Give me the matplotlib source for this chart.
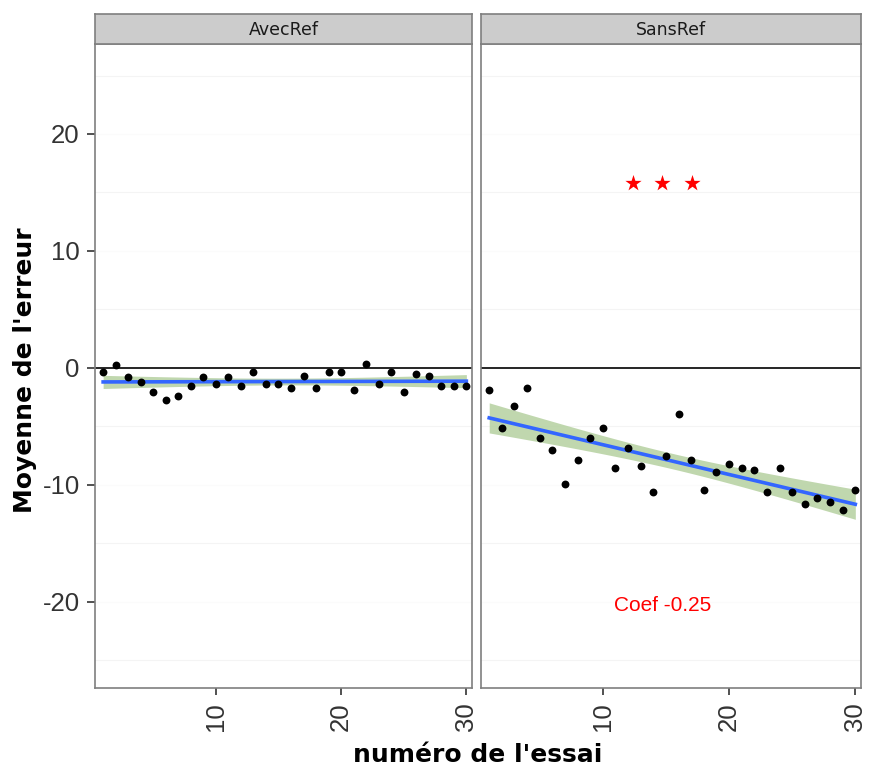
import numpy as np
import matplotlib
matplotlib.use("Agg")
import matplotlib.pyplot as plt

plt.rcParams['font.family'] = ['Liberation Sans', 'DejaVu Sans']

# essai number (same for both panels)
essai = list(range(1, 31))

# mean error, panel "AvecRef"
avec_ref = [-0.37, 0.2, -0.83, -1.26, -2.08, -2.76, -2.39, -1.6, -0.83, -1.43,
            -0.83, -1.6, -0.37, -1.43, -1.43, -1.77, -0.68, -1.77, -0.37, -0.37,
            -1.9, 0.32, -1.43, -0.37, -2.08, -0.51, -0.68, -1.6, -1.6, -1.6]

# mean error, panel "SansRef"
sans_ref = [-1.91, -5.15, -3.27, -1.74, -6.01, -7.03, -9.94, -7.89, -6.01, -5.15,
            -8.57, -6.86, -8.4, -10.62, -7.55, -3.96, -7.89, -10.45, -8.91, -8.23,
            -8.57, -8.74, -10.62, -8.57, -10.62, -11.65, -11.14, -11.48, -12.16, -10.45]

panels = ["AvecRef", "SansRef"]

# annotations of the SansRef panel
stars_x = [12.4, 14.7, 17.1]
stars_y = [15.8, 15.8, 15.8]
coef_label = "Coef -0.25"


def fit_band(x, y, t=2.048):
    # lm fit + 95% confidence band, like geom_smooth(method="lm")
    x = np.asarray(x, float)
    y = np.asarray(y, float)
    b, a = np.polyfit(x, y, 1)
    xs = np.linspace(x.min(), x.max(), 80)
    ys = a + b * xs
    resid = y - (a + b * x)
    s = np.sqrt(np.sum(resid ** 2) / (len(x) - 2))
    sxx = np.sum((x - x.mean()) ** 2)
    se = s * np.sqrt(1 / len(x) + (xs - x.mean()) ** 2 / sxx)
    return xs, ys, ys - t * se, ys + t * se


fig = plt.figure(figsize=(8.77, 7.67), dpi=100)

W, H = 877, 767
boxes = [(95, 472), (481, 861)]
top, bottom = 44, 688
strip_top = 14

for i, (name, vals) in enumerate(zip(panels, [avec_ref, sans_ref])):
    x0, x1 = boxes[i]
    ax = fig.add_axes([x0 / W, 1 - bottom / H, (x1 - x0) / W, (bottom - top) / H])
    ax.set_xlim(0.35, 30.45)
    ax.set_ylim(-27.4, 27.7)

    # faint grid
    for g in [-25, -15, -5, 5, 15, 25]:
        ax.axhline(g, color='#F4F4F4', lw=0.8, zorder=0)
    for g in [-20, -10, 10, 20]:
        ax.axhline(g, color='#FBFBFB', lw=0.8, zorder=0)

    ax.axhline(0, color='black', lw=1.2, zorder=1)

    xs, ys, lo, hi = fit_band(essai, vals)
    ax.fill_between(xs, lo, hi, color='#B9D3A5', alpha=0.9, lw=0, zorder=2)
    ax.plot(xs, ys, color='#3366FF', lw=2.6, zorder=3)
    ax.scatter(essai, vals, s=32, color='black', zorder=4, lw=0)

    ax.set_xticks([10, 20, 30])
    ax.set_xticklabels(['10', '20', '30'], rotation=90, fontsize=18.5, color='#333333')
    ax.tick_params(axis='x', length=5, width=1.2, color='#333333', pad=5)

    if i == 0:
        ax.set_yticks([-20, -10, 0, 10, 20])
        ax.set_yticklabels(['-20', '-10', '0', '10', '20'], fontsize=18.5, color='#333333')
        ax.tick_params(axis='y', length=6, width=1.2, color='#333333', pad=5)
    else:
        ax.set_yticks([])
        ax.scatter(stars_x, stars_y, marker='*', s=150, color='red', lw=0, zorder=5)
        ax.text(14.7, -20.3, coef_label, color='red', fontsize=15, ha='center', va='center')

    for sp in ax.spines.values():
        sp.set_color('#7F7F7F')
        sp.set_linewidth(1.2)

    # facet strip
    sax = fig.add_axes([x0 / W, 1 - top / H, (x1 - x0) / W, (top - strip_top) / H])
    sax.set_facecolor('#CCCCCC')
    sax.set_xticks([])
    sax.set_yticks([])
    for sp in sax.spines.values():
        sp.set_color('#7F7F7F')
        sp.set_linewidth(1.2)
    sax.text(0.5, 0.47, name, ha='center', va='center', fontsize=12.5, color='#1A1A1A',
             family='DejaVu Sans', transform=sax.transAxes)

fig.text(25 / W, 1 - 370 / H, "Moyenne de l'erreur", rotation=90, ha='center', va='center',
         fontsize=18, fontweight='bold', family='DejaVu Sans')
fig.text(478 / W, 1 - 755 / H, "numéro de l'essai", ha='center', va='center',
         fontsize=18, fontweight='bold', family='DejaVu Sans')

fig.savefig('out.png', dpi=100)
